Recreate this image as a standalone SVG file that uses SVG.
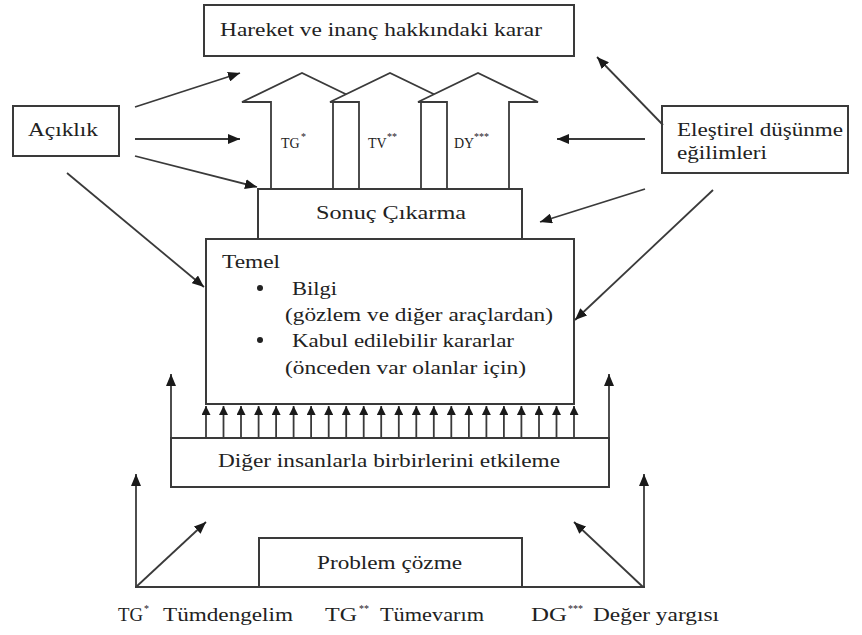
<svg xmlns="http://www.w3.org/2000/svg" width="862" height="635" viewBox="0 0 862 635">
<style>
.box{fill:#fff;stroke:#3a3a3a;stroke-width:2}
.big{fill:#fff;stroke:#3a3a3a;stroke-width:1.8;stroke-linejoin:miter}
.ln{fill:none;stroke:#3a3a3a;stroke-width:1.8}
text{font-family:'Liberation Serif','Times New Roman','DejaVu Serif',serif;fill:#222}
.t{font-size:19px}
.s{font-size:14px}
.sup{font-size:10px}
</style>
<defs>
<marker id="ah" viewBox="0 0 12 10" refX="12" refY="5" markerWidth="12" markerHeight="10" markerUnits="userSpaceOnUse" orient="auto">
<path d="M0,0 L12,5 L0,10 Z" fill="#1a1a1a"/>
</marker>
<marker id="sa" viewBox="0 0 10 10" refX="10" refY="5" markerWidth="10" markerHeight="9" markerUnits="userSpaceOnUse" orient="auto">
<path d="M0,0 L10,5 L0,10 Z" fill="#1a1a1a"/>
</marker>
</defs>

<g id="karar">
<rect class="box" x="204" y="5" width="370" height="51"/>
<text class="t" x="220" y="36" textLength="322" lengthAdjust="spacingAndGlyphs">Hareket ve inanç hakkındaki karar</text>
</g>

<g id="arrow-tg">
<path class="big" d="M271,189 L271,102 L242,102 L302,73 L362,102 L333,102 L333,189 Z"/>
<text class="s" x="281" y="148">TG</text><text class="sup" x="301" y="140">*</text>
</g>
<g id="arrow-tv">
<path class="big" d="M359,189 L359,102 L330,102 L390,73 L450,102 L421,102 L421,189 Z"/>
<text class="s" x="368" y="148">TV</text><text class="sup" x="387" y="140">**</text>
</g>
<g id="arrow-dy">
<path class="big" d="M447,189 L447,102 L418,102 L478,73 L538,102 L509,102 L509,189 Z"/>
<text class="s" x="454" y="148">DY</text><text class="sup" x="474" y="140">***</text>
</g>

<g id="aciklik">
<rect class="box" x="13" y="106" width="106" height="50"/>
<text class="t" x="28" y="136" textLength="70" lengthAdjust="spacingAndGlyphs">Açıklık</text>
</g>

<g id="elestirel">
<rect class="box" x="662" y="106" width="186" height="67"/>
<text class="t" x="677" y="136" textLength="166" lengthAdjust="spacingAndGlyphs">Eleştirel düşünme</text>
<text class="t" x="677" y="159" textLength="90" lengthAdjust="spacingAndGlyphs">eğilimleri</text>
</g>

<g id="sonuc">
<rect class="box" x="258" y="189" width="264" height="50"/>
<text class="t" x="316" y="219" textLength="150" lengthAdjust="spacingAndGlyphs">Sonuç Çıkarma</text>
</g>

<g id="temel">
<rect class="box" x="206" y="239" width="368" height="165"/>
<text class="t" x="222" y="268" textLength="58" lengthAdjust="spacingAndGlyphs">Temel</text>
<circle cx="260" cy="288" r="3" fill="#222"/>
<text class="t" x="292" y="295" textLength="45" lengthAdjust="spacingAndGlyphs">Bilgi</text>
<text class="t" x="285" y="321" textLength="268" lengthAdjust="spacingAndGlyphs">(gözlem ve diğer araçlardan)</text>
<circle cx="260" cy="340" r="3" fill="#222"/>
<text class="t" x="292" y="347" textLength="222" lengthAdjust="spacingAndGlyphs">Kabul edilebilir kararlar</text>
<text class="t" x="285" y="374" textLength="241" lengthAdjust="spacingAndGlyphs">(önceden var olanlar için)</text>
</g>

<g id="diger">
<rect class="box" x="171" y="438" width="438" height="49"/>
<text class="t" x="218" y="467" textLength="342" lengthAdjust="spacingAndGlyphs">Diğer insanlarla birbirlerini etkileme</text>
</g>

<g id="problem">
<rect class="box" x="259" y="538" width="263" height="49"/>
<text class="t" x="317" y="569" textLength="145" lengthAdjust="spacingAndGlyphs">Problem çözme</text>
</g>

<g id="labels">
<text class="t" x="118" y="621" textLength="25" lengthAdjust="spacingAndGlyphs">TG</text>
<text class="sup" x="144" y="612">*</text>
<text class="t" x="163" y="621" textLength="130" lengthAdjust="spacingAndGlyphs">Tümdengelim</text>
<text class="t" x="325" y="621" textLength="32" lengthAdjust="spacingAndGlyphs">TG</text>
<text class="sup" x="359" y="612">**</text>
<text class="t" x="380" y="621" textLength="104" lengthAdjust="spacingAndGlyphs">Tümevarım</text>
<text class="t" x="531" y="621" textLength="36" lengthAdjust="spacingAndGlyphs">DG</text>
<text class="sup" x="568" y="612">***</text>
<text class="t" x="593" y="621" textLength="126" lengthAdjust="spacingAndGlyphs">Değer yargısı</text>
</g>

<g id="connectors">
<line class="ln" x1="135" y1="107" x2="240" y2="73" marker-end="url(#ah)"/>
<line class="ln" x1="135" y1="139" x2="240" y2="139" marker-end="url(#ah)"/>
<line class="ln" x1="135" y1="156" x2="257" y2="187" marker-end="url(#ah)"/>
<line class="ln" x1="67" y1="173" x2="204" y2="287" marker-end="url(#ah)"/>
<line class="ln" x1="663" y1="125" x2="597" y2="57" marker-end="url(#ah)"/>
<line class="ln" x1="645" y1="139" x2="557" y2="139" marker-end="url(#ah)"/>
<line class="ln" x1="645" y1="189" x2="540" y2="222" marker-end="url(#ah)"/>
<line class="ln" x1="713" y1="190" x2="575" y2="320" marker-end="url(#ah)"/>
<line class="ln" x1="171" y1="438" x2="171" y2="374" marker-end="url(#ah)"/>
<line class="ln" x1="609" y1="438" x2="609" y2="374" marker-end="url(#ah)"/>
<line class="ln" x1="135" y1="587" x2="645" y2="587"/>
<line class="ln" x1="136" y1="587" x2="136" y2="474" marker-end="url(#ah)"/>
<line class="ln" x1="644" y1="587" x2="644" y2="474" marker-end="url(#ah)"/>
<line class="ln" x1="136" y1="587" x2="206" y2="522" marker-end="url(#ah)"/>
<line class="ln" x1="643" y1="587" x2="574" y2="522" marker-end="url(#ah)"/>
<g>
<line class="ln" x1="206" y1="438" x2="206" y2="406" marker-end="url(#sa)"/>
<line class="ln" x1="223.5" y1="438" x2="223.5" y2="406" marker-end="url(#sa)"/>
<line class="ln" x1="241" y1="438" x2="241" y2="406" marker-end="url(#sa)"/>
<line class="ln" x1="258.6" y1="438" x2="258.6" y2="406" marker-end="url(#sa)"/>
<line class="ln" x1="276.1" y1="438" x2="276.1" y2="406" marker-end="url(#sa)"/>
<line class="ln" x1="293.6" y1="438" x2="293.6" y2="406" marker-end="url(#sa)"/>
<line class="ln" x1="311.1" y1="438" x2="311.1" y2="406" marker-end="url(#sa)"/>
<line class="ln" x1="328.7" y1="438" x2="328.7" y2="406" marker-end="url(#sa)"/>
<line class="ln" x1="346.2" y1="438" x2="346.2" y2="406" marker-end="url(#sa)"/>
<line class="ln" x1="363.7" y1="438" x2="363.7" y2="406" marker-end="url(#sa)"/>
<line class="ln" x1="381.2" y1="438" x2="381.2" y2="406" marker-end="url(#sa)"/>
<line class="ln" x1="398.8" y1="438" x2="398.8" y2="406" marker-end="url(#sa)"/>
<line class="ln" x1="416.3" y1="438" x2="416.3" y2="406" marker-end="url(#sa)"/>
<line class="ln" x1="433.8" y1="438" x2="433.8" y2="406" marker-end="url(#sa)"/>
<line class="ln" x1="451.3" y1="438" x2="451.3" y2="406" marker-end="url(#sa)"/>
<line class="ln" x1="468.9" y1="438" x2="468.9" y2="406" marker-end="url(#sa)"/>
<line class="ln" x1="486.4" y1="438" x2="486.4" y2="406" marker-end="url(#sa)"/>
<line class="ln" x1="503.9" y1="438" x2="503.9" y2="406" marker-end="url(#sa)"/>
<line class="ln" x1="521.4" y1="438" x2="521.4" y2="406" marker-end="url(#sa)"/>
<line class="ln" x1="539" y1="438" x2="539" y2="406" marker-end="url(#sa)"/>
<line class="ln" x1="556.5" y1="438" x2="556.5" y2="406" marker-end="url(#sa)"/>
<line class="ln" x1="574" y1="438" x2="574" y2="406" marker-end="url(#sa)"/>
</g>
</g>
</svg>
